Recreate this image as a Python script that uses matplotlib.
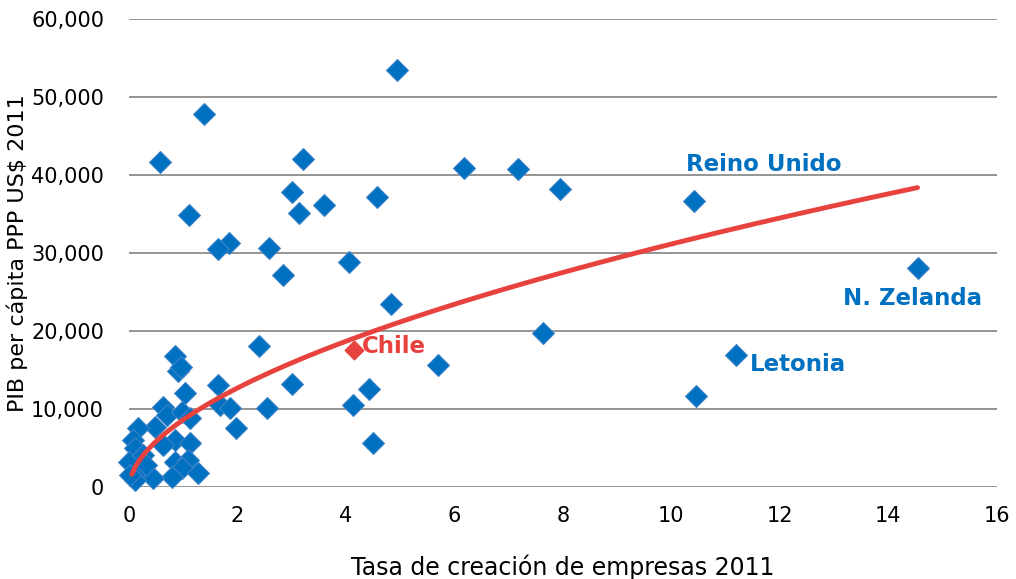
import numpy as np
import matplotlib
matplotlib.use("Agg")
import matplotlib.pyplot as plt

# Tasa de creación de empresas 2011 vs PIB per cápita PPP US$ 2011
tasa = [4.94, 1.38, 0.57, 3.21, 6.18, 7.17, 7.94, 3.00, 4.57, 3.59,
        3.13, 1.11, 10.41, 1.84, 1.64, 2.58, 2.84, 4.06, 4.83, 7.63,
        2.40, 14.54, 11.19, 10.45, 5.70, 4.42, 4.13, 4.50, 3.00, 2.54,
        0.85, 0.90, 0.96, 1.03, 1.64, 1.68, 1.86, 1.97, 0.63, 0.70,
        0.98, 1.12, 0.48, 0.17, 0.07, 0.85, 1.12, 0.63, 0.11, 0.00,
        0.26, 0.85, 1.09, 0.20, 0.98, 1.27, 0.79, 0.44, 0.11, 0.02,
        0.31]
pib = [53460, 47820, 41670, 42050, 40900, 40770, 38200, 37820, 37180, 36150,
       35130, 34870, 36670, 31280, 30510, 30640, 27180, 28850, 23460, 19740,
       18080, 28080, 16920, 11670, 15640, 12560, 10510, 5640, 13200, 10130,
       16790, 14870, 15380, 12050, 13080, 10510, 10130, 7560, 10260, 9230,
       9620, 8850, 7690, 7560, 6030, 6030, 5580, 5380, 5000, 3210,
       4100, 3210, 3460, 2180, 2440, 1790, 1280, 1150, 900, 1540,
       2820]

chile_tasa = 4.15
chile_pib = 17560

# tendencia potencial y = a * x^b
trend_a = 8620
trend_b = 0.558
trend_x0, trend_x1 = 0.05, 14.54

labels = ["Reino Unido", "N. Zelanda", "Letonia"]
label_x = [10.27, 14.45, 11.45]
label_y = [41400, 24230, 15640]
label_ha = ["left", "center", "left"]

blue = "#0070C0"
red = "#E8423F"

fig = plt.figure(figsize=(10.16, 5.79), dpi=100)
ax = fig.add_axes([0.127, 0.159, 0.854, 0.808])

ax.scatter(tasa, pib, marker="D", s=125, color=blue, edgecolors="#3F83C8",
           linewidths=0.8, zorder=3, clip_on=False)

xt = np.linspace(trend_x0, trend_x1, 200)
ax.plot(xt, trend_a * xt ** trend_b, color=red, lw=3.5, zorder=4,
        solid_capstyle="round")

ax.scatter([chile_tasa], [chile_pib], marker="D", s=90, color=red, zorder=5)
ax.text(4.29, 17950, "Chile", color=red,
        fontsize=16.5, fontweight="bold", va="center", ha="left")

for t, lx, ly, ha in zip(labels, label_x, label_y, label_ha):
    ax.text(lx, ly, t, color=blue, fontsize=16.5, fontweight="bold",
            va="center", ha=ha)

ax.set_xlim(0, 16)
ax.set_ylim(0, 60000)
ax.set_xticks(range(0, 17, 2))
ax.set_yticks(range(0, 60001, 10000))
ax.set_yticklabels([f"{v:,}" for v in range(0, 60001, 10000)])
ax.tick_params(axis="both", length=0, labelsize=15, colors="black")
ax.tick_params(axis="x", pad=14)
ax.tick_params(axis="y", pad=18)

ax.grid(axis="y", color="#8C8C8C", lw=1.3)
ax.set_axisbelow(True)
for s in ax.spines.values():
    s.set_visible(False)

ax.set_xlabel("Tasa de creación de empresas 2011", fontsize=17, labelpad=20)
ax.set_ylabel("PIB per cápita PPP US$ 2011", fontsize=16, labelpad=2)

fig.savefig("out.png", dpi=100)
